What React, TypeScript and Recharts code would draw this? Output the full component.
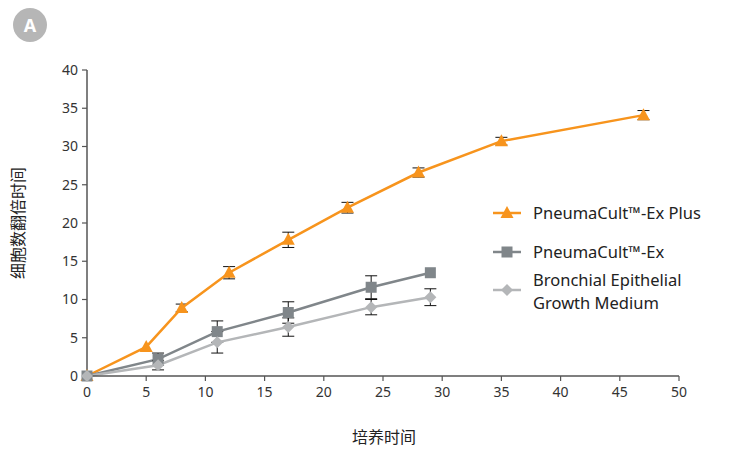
import React from "react"
import { LineChart, Line, XAxis, YAxis, ErrorBar } from "recharts"

// culture time (x) vs cell doublings (y), with error bars
const plusX = [0, 5, 8, 12, 17, 22, 28, 35, 47]
const plusY = [0, 3.8, 8.9, 13.5, 17.8, 22, 26.6, 30.7, 34.1]
const plusErr = [null, null, 0.5, 0.8, 1.0, 0.7, 0.6, 0.5, 0.6]

const exX = [0, 6, 11, 17, 24, 29]
const exY = [0, 2.2, 5.8, 8.3, 11.6, 13.5]
const exErr = [null, 0.8, 1.4, 1.4, 1.5, null]

const begmX = [0, 6, 11, 17, 24, 29]
const begmY = [0, 1.4, 4.4, 6.4, 9.0, 10.3]
const begmErr = [null, 0.6, 1.4, 1.2, 1.0, 1.1]

const xTicks = [0, 5, 10, 15, 20, 25, 30, 35, 40, 45, 50]
const yTicks = [0, 5, 10, 15, 20, 25, 30, 35, 40]

const seriesNames = ["PneumaCult™-Ex Plus", "PneumaCult™-Ex", "Bronchial Epithelial Growth Medium"]

const ORANGE = "#F7941D"
const DARK = "#80868A"
const LIGHT = "#B4B6B8"
const AXIS = "#555"
const FONT = "'Noto Sans', 'Noto Sans CJK SC', sans-serif"

const toRows = (xs: number[], ys: number[], errs: (number | null)[]) =>
  xs.map((x, i) => ({ x, y: ys[i], err: errs[i] }))

const plusData = toRows(plusX, plusY, plusErr)
const exData = toRows(exX, exY, exErr)
const begmData = toRows(begmX, begmY, begmErr)

function Triangle({ cx, cy, fill }: any) {
  if (cx == null || cy == null) return null
  return <path d={`M${cx},${cy - 7} L${cx + 6.5},${cy + 5} L${cx - 6.5},${cy + 5} Z`} fill={fill} />
}

function Square({ cx, cy, fill }: any) {
  if (cx == null || cy == null) return null
  return <rect x={cx - 5.5} y={cy - 5.5} width={11} height={11} fill={fill} />
}

function Diamond({ cx, cy, fill }: any) {
  if (cx == null || cy == null) return null
  return <path d={`M${cx},${cy - 6} L${cx + 6},${cy} L${cx},${cy + 6} L${cx - 6},${cy} Z`} fill={fill} />
}

// legend drawn as an overlay; y values are centre lines
function LegendBox() {
  const rows = [
    { lines: [seriesNames[0]], color: ORANGE, shape: Triangle, mark: 213, text: 213 },
    { lines: [seriesNames[1]], color: DARK, shape: Square, mark: 252, text: 252 },
    { lines: ["Bronchial Epithelial", "Growth Medium"], color: LIGHT, shape: Diamond, mark: 290, text: 280 },
  ]
  return (
    <svg width={729} height={451} style={{ position: "absolute", left: 0, top: 0, pointerEvents: "none" }}>
      {rows.map((r, i) => {
        const Shape = r.shape
        return (
          <g key={i}>
            <line x1={493} y1={r.mark} x2={521} y2={r.mark} stroke={r.color} strokeWidth={2.5} />
            <Shape cx={507} cy={r.mark} fill={r.color} />
            {r.lines.map((t, j) => (
              <text
                key={t}
                x={533}
                y={r.text + j * 23}
                dy="0.35em"
                fill="#222"
                fontSize={16.5}
                fontFamily={FONT}
              >
                {t}
              </text>
            ))}
          </g>
        )
      })}
    </svg>
  )
}

export default function App() {
  const tick = { fill: "#333", fontSize: 14, fontFamily: FONT }
  return (
    <div style={{ position: "absolute", left: 0, top: 0, width: 729, height: 451, background: "#fff" }}>
      <svg width={60} height={50} style={{ position: "absolute", left: 0, top: 0 }}>
        <circle cx={30} cy={25} r={17} fill="#B6B6B6" />
        <text x={30} y={31.5} textAnchor="middle" fill="#fff" fontSize={18} fontWeight="bold" fontFamily={FONT}>
          A
        </text>
      </svg>
      <LineChart
        width={729}
        height={451}
        margin={{ top: 70, right: 50, left: 27, bottom: 45 }}
        style={{ fontFamily: FONT }}
      >
        <XAxis
          type="number"
          dataKey="x"
          domain={[0, 50]}
          ticks={xTicks}
          interval={0}
          height={30}
          tick={tick}
          tickSize={5}
          tickMargin={6}
          axisLine={{ stroke: AXIS, strokeWidth: 1.5 }}
          tickLine={{ stroke: AXIS, strokeWidth: 1.2 }}
          allowDuplicatedCategory={false}
        />
        <YAxis
          type="number"
          domain={[0, 40]}
          ticks={yTicks}
          interval={0}
          width={60}
          tick={tick}
          tickSize={5}
          tickMargin={4}
          axisLine={{ stroke: AXIS, strokeWidth: 1.5 }}
          tickLine={{ stroke: AXIS, strokeWidth: 1.2 }}
        />
        <text x={384} y={443} textAnchor="middle" fill="#222" fontSize={16} fontFamily={FONT}>
          培养时间
        </text>
        <text
          x={24}
          y={223}
          textAnchor="middle"
          fill="#222"
          fontSize={16}
          fontFamily={FONT}
          transform="rotate(-90 24 223)"
        >
          细胞数翻倍时间
        </text>
        <Line
          data={plusData}
          dataKey="y"
          name={seriesNames[0]}
          stroke={ORANGE}
          strokeWidth={2.5}
          dot={<Triangle fill={ORANGE} />}
          activeDot={false}
          isAnimationActive={false}
        >
          <ErrorBar dataKey="err" direction="y" width={6} stroke="#111" strokeWidth={1} />
        </Line>
        <Line
          data={exData}
          dataKey="y"
          name={seriesNames[1]}
          stroke={DARK}
          strokeWidth={2.5}
          dot={<Square fill={DARK} />}
          activeDot={false}
          isAnimationActive={false}
        >
          <ErrorBar dataKey="err" direction="y" width={6} stroke="#111" strokeWidth={1} />
        </Line>
        <Line
          data={begmData}
          dataKey="y"
          name={seriesNames[2]}
          stroke={LIGHT}
          strokeWidth={2.5}
          dot={<Diamond fill={LIGHT} />}
          activeDot={false}
          isAnimationActive={false}
        >
          <ErrorBar dataKey="err" direction="y" width={6} stroke="#111" strokeWidth={1} />
        </Line>
      </LineChart>
      <LegendBox />
    </div>
  )
}
